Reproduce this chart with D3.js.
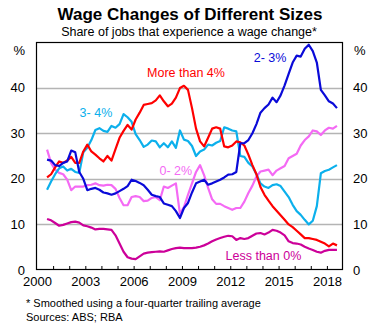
<!DOCTYPE html>
<html>
<head>
<meta charset="utf-8">
<script src="https://cdn.jsdelivr.net/npm/d3@7"></script>
<style>
  body { margin: 0; background: #fff; }
  text { font-family: Arial, 'Liberation Sans', sans-serif; }
</style>
</head>
<body>
<svg id="chart"></svg>
<script>
// Quarterly shares (%), four-quarter trailing average, first point is Q3 2000
var firstQuarter = 2000.625;

var moreThan4 = [20.3, 21.0, 22.5, 23.8, 23.5, 24.0, 24.8, 23.5, 23.5, 26.0, 27.5, 26.0, 25.3, 24.5, 23.8, 25.0, 24.0, 26.5, 29.0, 30.5, 31.8, 30.8,
  33.0, 34.5, 36.2, 36.4, 36.6, 37.2, 38.3, 37.0, 35.9, 36.5, 37.8, 39.9, 40.4, 39.5, 35.5, 31.0, 28.2, 27.1, 29.0, 31.0, 31.3, 31.0, 27.1, 26.9, 27.3, 28.2,
  28.0, 27.3, 25.3, 23.0, 21.0, 18.2, 16.5, 15.2, 14.0, 13.0, 12.0, 11.0, 10.0, 9.4, 8.6, 7.8, 7.0, 7.0, 6.8, 6.6, 6.2, 5.8, 5.2, 5.8, 5.4];

var twoToThree = [24.2, 24.0, 23.0, 22.8, 23.5, 23.8, 26.2, 25.8, 21.5, 20.0, 17.5, 17.8, 18.0, 17.6, 17.0, 16.8, 16.5, 16.8, 17.3, 17.8, 18.4, 19.8,
  19.5, 19.1, 18.6, 17.6, 16.5, 16.2, 16.0, 14.6, 14.3, 14.0, 12.9, 11.4, 13.6, 14.7, 17.0, 19.0, 19.4, 19.8, 18.7, 19.0, 19.4, 19.8, 20.3, 20.9, 21.0, 21.5,
  27.8, 27.8, 28.5, 30.0, 32.0, 34.5, 35.5, 36.3, 37.8, 36.8, 38.3, 40.5, 43.0, 45.5, 47.0, 46.8, 48.5, 49.4, 48.0, 45.5, 39.5, 38.3, 37.0, 36.5, 35.5];

var threeToFour = [17.6, 19.4, 21.0, 22.3, 22.7, 21.8, 22.2, 21.5, 21.3, 25.8, 26.8, 28.5, 30.7, 31.1, 30.5, 30.3, 31.6, 31.2, 32.0, 34.2, 33.5, 32.5,
  29.8, 28.5, 27.0, 27.5, 28.4, 28.2, 26.9, 27.8, 26.9, 28.2, 26.8, 30.6, 28.6, 28.3, 27.2, 25.0, 26.0, 26.4, 27.5, 27.3, 27.9, 28.3, 31.3, 31.0, 30.6, 30.4,
  25.0, 24.8, 23.5, 22.7, 21.0, 19.0, 18.3, 18.0, 18.6, 18.8, 18.4, 17.2, 16.0, 14.3, 12.9, 12.1, 11.0, 10.0, 10.8, 14.0, 21.2, 21.7, 22.0, 22.5, 23.0];

var zeroToTwo = [26.4, 23.5, 22.0, 21.3, 21.0, 19.8, 17.5, 18.3, 18.3, 18.3, 18.6, 18.7, 19.0, 18.6, 18.5, 18.7, 18.6, 17.8, 15.8, 14.2, 14.2, 16.0,
  16.2, 16.0, 15.1, 15.2, 15.8, 16.0, 15.3, 18.3, 18.0, 18.5, 19.0, 12.3, 13.8, 16.5, 19.0, 21.5, 23.0, 20.8, 18.0, 15.5, 14.5, 14.5, 14.0, 13.6, 13.2, 13.6,
  13.6, 15.0, 16.9, 18.5, 20.5, 21.6, 21.8, 22.0, 20.8, 21.8, 22.3, 22.8, 24.5, 25.0, 25.5, 27.3, 28.5, 29.3, 30.6, 30.4, 29.6, 30.6, 31.2, 31.0, 31.6];

var lessThan0 = [11.2, 10.9, 10.3, 9.7, 9.9, 10.2, 10.5, 10.6, 10.4, 9.8, 9.6, 9.3, 8.9, 9.0, 9.0, 8.9, 8.8, 7.6, 5.8, 4.0, 2.8, 2.5,
  2.4, 3.0, 3.6, 3.8, 3.9, 4.0, 4.1, 4.0, 4.3, 4.6, 4.8, 4.9, 4.8, 4.8, 4.8, 4.9, 5.1, 5.4, 5.8, 6.3, 6.7, 7.0, 7.3, 7.5, 7.4, 6.6,
  7.0, 6.8, 7.0, 7.5, 8.0, 8.1, 7.8, 8.2, 8.8, 8.6, 8.2, 7.6, 6.3, 5.9, 5.8, 5.6, 5.1, 4.7, 4.4, 4.0, 3.8, 4.2, 4.4, 4.4, 4.4];

var yTicks = [0, 10, 20, 30, 40];
var yearTicks = [2001, 2002, 2003, 2004, 2005, 2006, 2007, 2008, 2009, 2010, 2011, 2012, 2013, 2014, 2015, 2016, 2017, 2018];
var yearLabels = [2000, 2003, 2006, 2009, 2012, 2015, 2018];

var width = 378,
    height = 329,
    plotLeft = 36,
    plotRight = 343,
    plotTop = 42,
    plotBottom = 270;

var x = d3.scaleLinear([2000, 2019], [37, plotRight]);
var y = d3.scaleLinear([0, 50], [plotBottom, plotTop]);

var svg = d3.select('#chart')
  .attr('width', width)
  .attr('height', height);

svg.append('rect')
  .attr('fill', 'white')
  .attr('width', width)
  .attr('height', height);

// gridlines
svg.append('g')
  .selectAll('line')
  .data(yTicks.slice(1))
  .join('line')
  .attr('x1', plotLeft)
  .attr('x2', plotRight)
  .attr('y1', d => Math.round(y(d)) + 0.5)
  .attr('y2', d => Math.round(y(d)) + 0.5)
  .attr('stroke', '#b4b4b4')
  .attr('stroke-width', 1.3);

// year ticks pointing up from the bottom axis
svg.append('g')
  .attr('transform', 'translate(0,' + plotBottom + ')')
  .call(d3.axisBottom(x).tickValues(yearTicks).tickFormat('').tickSizeInner(-4).tickSizeOuter(0))
  .call(g => g.select('.domain').remove())
  .selectAll('line')
  .attr('stroke', 'black');

svg.append('g')
  .attr('transform', 'translate(0,' + plotBottom + ')')
  .call(d3.axisBottom(x).tickValues(yearLabels).tickFormat(d3.format('d')).tickSize(0).tickPadding(7))
  .call(g => g.select('.domain').remove())
  .selectAll('text')
  .attr('font-size', 13)
  .attr('font-family', "Arial, 'Liberation Sans', sans-serif");

svg.append('g')
  .attr('transform', 'translate(' + plotLeft + ',0)')
  .call(d3.axisLeft(y).tickValues(yTicks).tickSize(0).tickPadding(11))
  .call(g => g.select('.domain').remove())
  .selectAll('text')
  .attr('font-size', 13)
  .attr('font-family', "Arial, 'Liberation Sans', sans-serif");

svg.append('g')
  .attr('transform', 'translate(' + plotRight + ',0)')
  .call(d3.axisRight(y).tickValues(yTicks).tickSize(0).tickPadding(10))
  .call(g => g.select('.domain').remove())
  .selectAll('text')
  .attr('font-size', 13)
  .attr('font-family', "Arial, 'Liberation Sans', sans-serif");

svg.append('text')
  .attr('x', 25)
  .attr('y', 55)
  .attr('text-anchor', 'end')
  .attr('font-size', 13)
  .text('%');

svg.append('text')
  .attr('x', 354)
  .attr('y', 55)
  .attr('font-size', 13)
  .text('%');

// series
var series = [
  {values: lessThan0, color: '#cc0099'},
  {values: zeroToTwo, color: '#f46af4'},
  {values: threeToFour, color: '#0cb0ec'},
  {values: moreThan4, color: '#ff0000'},
  {values: twoToThree, color: '#0a0ad8'}
];

var line = d3.line()
  .x((d, i) => x(firstQuarter + i * 0.25))
  .y(d => y(d));

svg.append('g')
  .selectAll('path')
  .data(series)
  .join('path')
  .attr('d', d => line(d.values))
  .attr('fill', 'none')
  .attr('stroke', d => d.color)
  .attr('stroke-width', 2.2)
  .attr('stroke-linejoin', 'round');

// series labels, placed in data units
var labels = [
  {text: 'More than 4%', year: 2009.25, value: 42.3, color: '#ff0000'},
  {text: '2- 3%', year: 2014.47, value: 45.6, color: '#0a0ad8'},
  {text: '3- 4%', year: 2003.66, value: 33.6, color: '#0cb0ec'},
  {text: '0- 2%', year: 2008.62, value: 20.8, color: '#f46af4'},
  {text: 'Less than 0%', year: 2014.06, value: 2.1, color: '#cc0099'}
];

svg.append('g')
  .selectAll('text')
  .data(labels)
  .join('text')
  .attr('x', d => x(d.year))
  .attr('y', d => y(d.value))
  .attr('text-anchor', 'middle')
  .attr('font-size', 12.5)
  .attr('fill', d => d.color)
  .text(d => d.text);

// frame
svg.append('rect')
  .attr('x', plotLeft + 0.5)
  .attr('y', plotTop + 0.5)
  .attr('width', plotRight - plotLeft - 1)
  .attr('height', plotBottom - plotTop - 1)
  .attr('fill', 'none')
  .attr('stroke', 'black')
  .attr('stroke-width', 1.2);

svg.append('text')
  .attr('x', 190)
  .attr('y', 20)
  .attr('text-anchor', 'middle')
  .attr('font-size', 17)
  .attr('font-weight', 'bold')
  .text('Wage Changes of Different Sizes');

svg.append('text')
  .attr('x', 189)
  .attr('y', 36)
  .attr('text-anchor', 'middle')
  .attr('font-size', 12.5)
  .text('Share of jobs that experience a wage change*');

svg.append('text')
  .attr('x', 26)
  .attr('y', 307)
  .attr('font-size', 11)
  .text('* Smoothed using a four-quarter trailing average');

svg.append('text')
  .attr('x', 26)
  .attr('y', 321)
  .attr('font-size', 11)
  .text('Sources: ABS; RBA');
</script>
</body>
</html>
